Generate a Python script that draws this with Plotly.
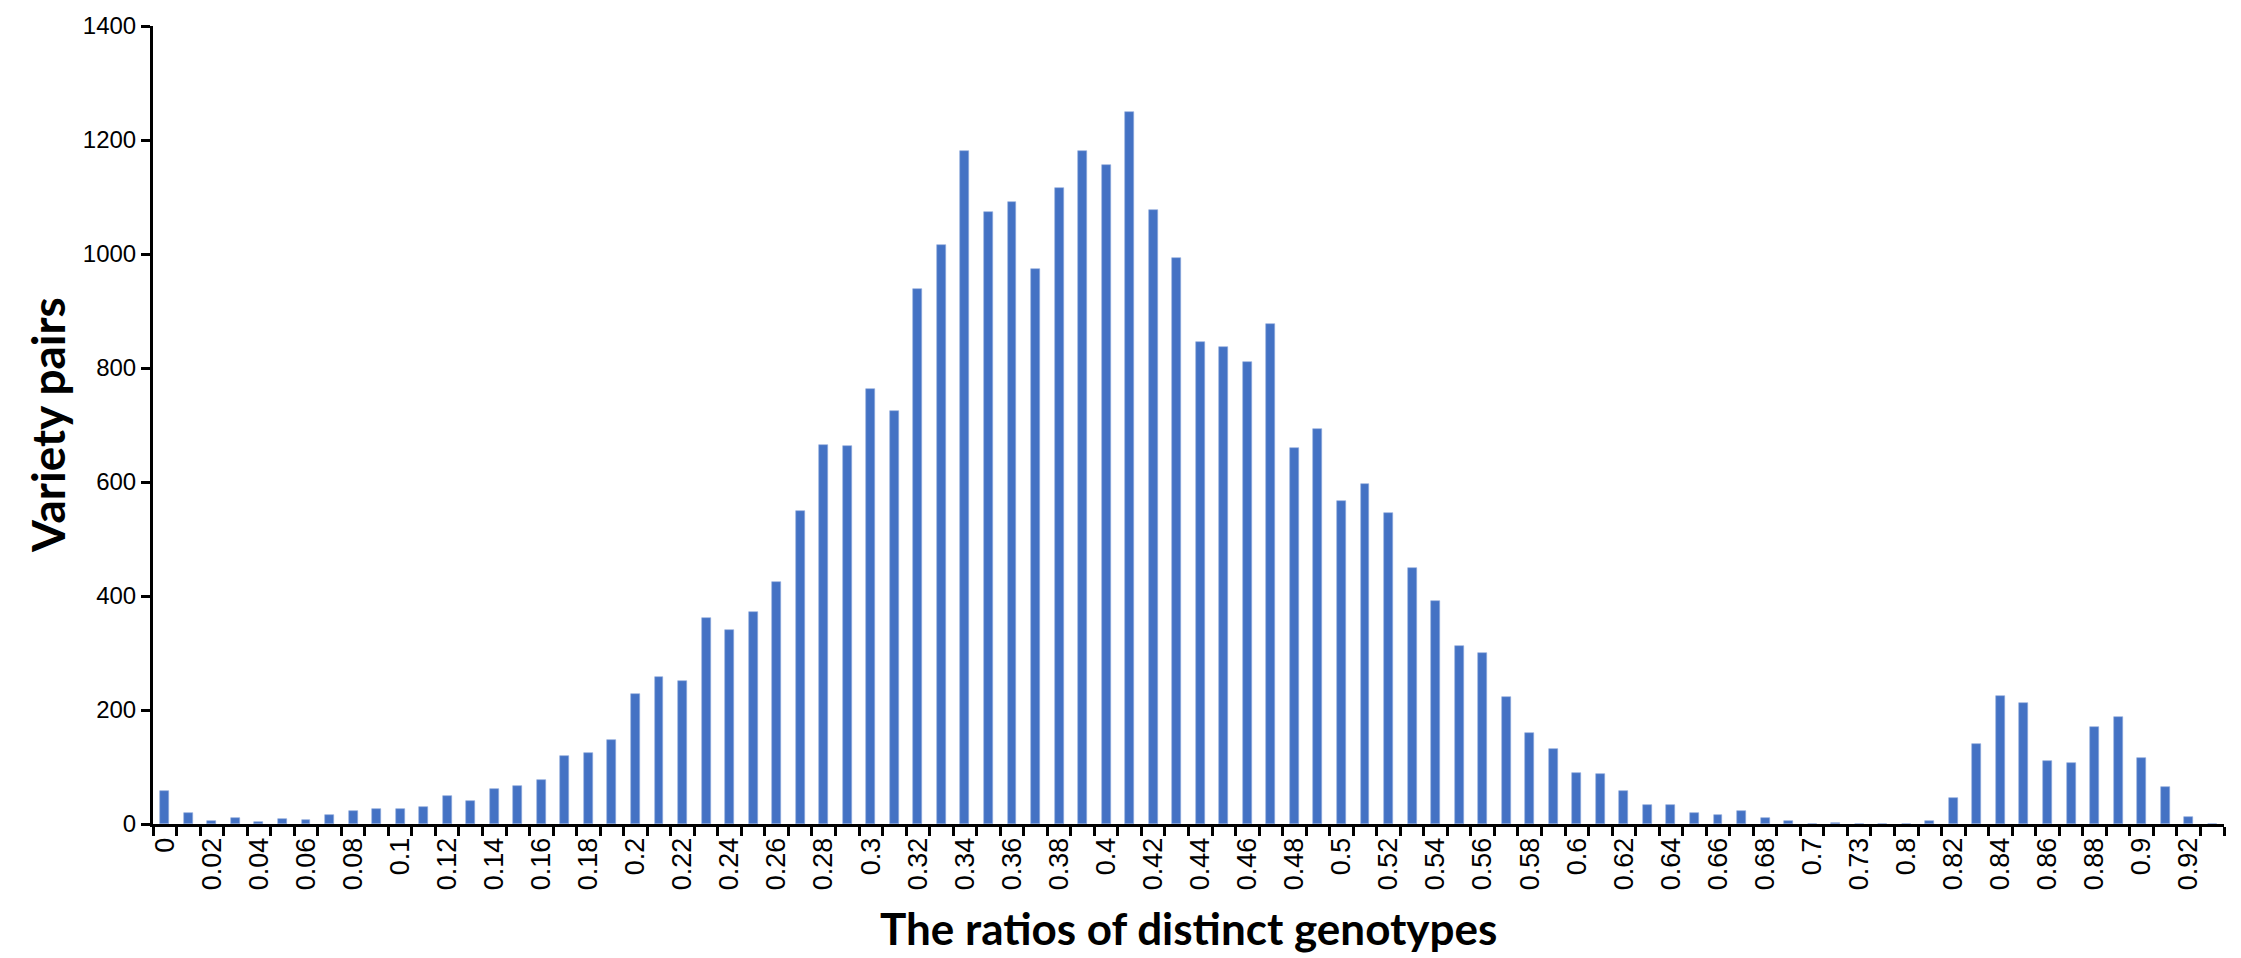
import plotly.graph_objects as go

categories = ["0", "0.01", "0.02", "0.03", "0.04", "0.05", "0.06", "0.07", "0.08", "0.09",
              "0.1", "0.11", "0.12", "0.13", "0.14", "0.15", "0.16", "0.17", "0.18", "0.19",
              "0.2", "0.21", "0.22", "0.23", "0.24", "0.25", "0.26", "0.27", "0.28", "0.29",
              "0.3", "0.31", "0.32", "0.33", "0.34", "0.35", "0.36", "0.37", "0.38", "0.39",
              "0.4", "0.41", "0.42", "0.43", "0.44", "0.45", "0.46", "0.47", "0.48", "0.49",
              "0.5", "0.51", "0.52", "0.53", "0.54", "0.55", "0.56", "0.57", "0.58", "0.59",
              "0.6", "0.61", "0.62", "0.63", "0.64", "0.65", "0.66", "0.67", "0.68", "0.69",
              "0.7", "0.72", "0.73", "0.79", "0.8", "0.81", "0.82", "0.83", "0.84", "0.85",
              "0.86", "0.87", "0.88", "0.89", "0.9", "0.91", "0.92", "0.93"]

variety_pairs = [58, 20, 6, 10, 4, 8, 7, 16, 23, 26,
                 26, 30, 49, 40, 61, 67, 78, 120, 125, 148,
                 228, 258, 251, 362, 340, 372, 424, 549, 665, 664,
                 764, 724, 938, 1016, 1181, 1073, 1092, 973, 1115, 1181,
                 1157, 1249, 1078, 993, 845, 837, 811, 877, 659, 693,
                 566, 596, 546, 449, 392, 313, 300, 223, 159, 132,
                 89, 87, 58, 34, 34, 19, 15, 23, 10, 6,
                 0.5, 1.5, 0.5, 0.3, 0.5, 6, 46, 141, 225, 213,
                 111, 107, 171, 188, 116, 65, 12, 0]

y_ticks = [0, 200, 400, 600, 800, 1000, 1200, 1400]

x_pos = list(range(len(categories)))
label_pos = x_pos[::2]
label_text = categories[::2]

fig = go.Figure()
fig.add_trace(go.Bar(
    x=x_pos, y=variety_pairs, width=0.38,
    marker=dict(color="#4472C4", line=dict(color="#8FAADC", width=0.6)),
    showlegend=False,
))

fig.update_layout(
    width=2241, height=958,
    margin=dict(l=153, r=17, t=19, b=134),
    plot_bgcolor="white", paper_bgcolor="white",
    bargap=0,
    font=dict(family="Liberation Sans, Arial", color="black"),
)

fig.update_xaxes(
    range=[-0.5, len(categories) - 0.5],
    tickmode="array", tickvals=label_pos, ticktext=label_text,
    tickangle=-90, tickfont=dict(size=27, family="Liberation Sans, Arial"),
    ticks="outside", ticklen=0, tickwidth=0, tickcolor="black",
    showline=True, linecolor="black", linewidth=3,
    showgrid=False, zeroline=False,
    minor=dict(tickmode="linear", tick0=-0.5, dtick=1, ticks="outside",
               ticklen=9, tickwidth=3, tickcolor="black", showgrid=False),
)

fig.update_yaxes(
    range=[0, 1400],
    tickmode="array", tickvals=y_ticks,
    tickfont=dict(size=24, family="Liberation Sans, Arial"),
    ticks="outside", ticklen=9, tickwidth=3, tickcolor="black",
    showline=True, linecolor="black", linewidth=3,
    showgrid=False, zeroline=False,
)

fig.add_annotation(
    text="<b>The ratios of distinct genotypes</b>",
    xref="paper", yref="paper", x=0.5, y=0, xanchor="center", yanchor="middle",
    yshift=-104, showarrow=False,
    font=dict(family="Lato", size=44, color="black"),
)
fig.add_annotation(
    text="<b>Variety pairs</b>",
    xref="paper", yref="paper", x=0, y=0.5, xanchor="center", yanchor="middle",
    xshift=-106, textangle=-90, showarrow=False,
    font=dict(family="Lato", size=46, color="black"),
)

fig.write_html("out.html")
